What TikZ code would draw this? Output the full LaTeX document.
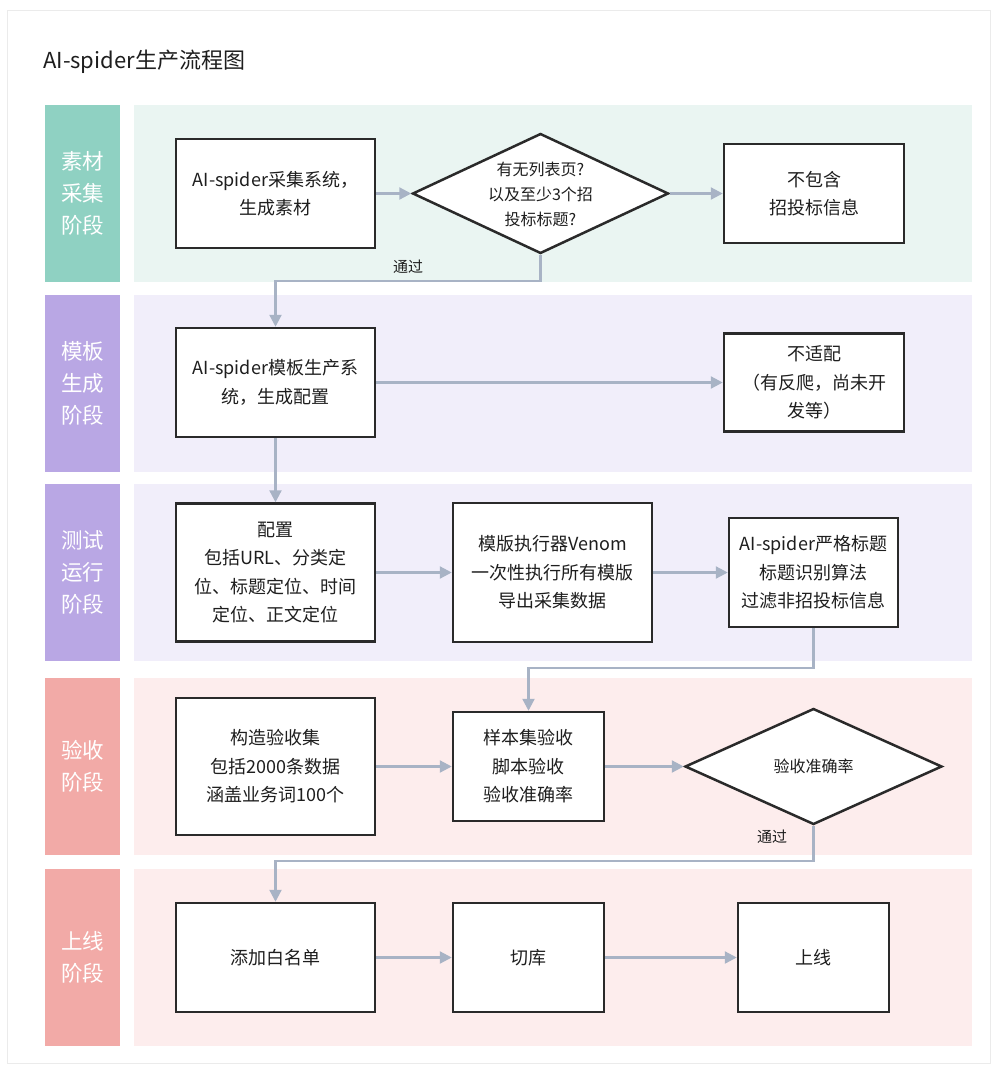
\documentclass[tikz,border=0pt]{standalone}
\usepackage{fontspec}
\setmainfont{Noto Sans CJK SC}
\usetikzlibrary{arrows.meta,shapes.geometric}
\definecolor{tealL}{HTML}{8FD1C2}
\definecolor{tealC}{HTML}{EAF5F2}
\definecolor{purpL}{HTML}{B9A7E4}
\definecolor{purpC}{HTML}{F1EEFA}
\definecolor{redL}{HTML}{F2AAA7}
\definecolor{redC}{HTML}{FDEDED}
\definecolor{arrowc}{HTML}{A8B3C5}
\definecolor{boxline}{HTML}{2A2A2A}
\definecolor{framec}{HTML}{EBEBEB}
\definecolor{textc}{HTML}{1E1E1E}
\begin{document}
\begin{tikzpicture}[x=1pt,y=-1pt,
  box/.style={draw=boxline, line width=2.5pt, fill=white, align=center, inner sep=0pt,
    text=textc, font=\fontsize{18}{28.5}\selectfont},
  dia/.style={diamond, draw=boxline, line width=2.5pt, fill=white, inner sep=0pt},
  diatext/.style={align=center, inner sep=0pt, text=textc, font=\fontsize{16}{25}\selectfont},
  lanelabel/.style={align=center, inner sep=0pt, text=white, font=\fontsize{21.5}{32}\selectfont},
  passlabel/.style={inner sep=0pt, text=textc, font=\fontsize{15}{18}\selectfont},
  conn/.style={draw=arrowc, line width=2.3pt, -{Triangle[length=12pt,width=12pt]}}
]
\useasboundingbox (0,0) rectangle (997,1066);
\fill[white] (0,0) rectangle (997,1066);
\draw[framec, line width=1pt] (7,10) rectangle (990,1063);

% title
\node[anchor=west, inner sep=0pt, text=textc, font=\fontsize{22}{26}\selectfont] (title) at (43,62) {AI-spider生产流程图};

% lanes
\fill[tealL] (45,105) rectangle (120,282);
\fill[tealC] (134,105) rectangle (972,282);
\fill[purpL] (45,295) rectangle (120,472);
\fill[purpC] (134,295) rectangle (972,472);
\fill[purpL] (45,484) rectangle (120,661);
\fill[purpC] (134,484) rectangle (972,661);
\fill[redL] (45,678) rectangle (120,855);
\fill[redC] (134,678) rectangle (972,855);
\fill[redL] (45,869) rectangle (120,1046);
\fill[redC] (134,869) rectangle (972,1046);

\node[lanelabel] (lab1) at (82.5,193.5) {素材\\采集\\阶段};
\node[lanelabel] (lab2) at (82.5,383.5) {模板\\生成\\阶段};
\node[lanelabel] (lab3) at (82.5,572.5) {测试\\运行\\阶段};
\node[lanelabel] (lab4) at (82.5,766.5) {验收\\阶段};
\node[lanelabel] (lab5) at (82.5,957.5) {上线\\阶段};

% lane 1
\node[box, minimum width=199pt, minimum height=109pt] (A) at (275.5,193.5) {AI-spider采集系统，\\生成素材};
\node[dia, minimum width=256pt, minimum height=120pt] (d1) at (540.5,193.5) {};
\node[diatext] (d1t) at (540.5,194) {有无列表页?\\以及至少3个招\\投标标题?};
\node[box, minimum width=180pt, minimum height=99pt] (B) at (814,193.5) {不包含\\招投标信息};

% lane 2
\node[box, minimum width=199pt, minimum height=109pt] (C) at (275.5,382.5) {AI-spider模板生产系\\统，生成配置};
\node[box, minimum width=180pt, minimum height=98pt] (D) at (814,382.5) {不适配\\（有反爬，尚未开\\发等）};

% lane 3
\node[box, minimum width=199pt, minimum height=138pt] (E) at (275.5,572.5) {配置\\包括URL、分类定\\位、标题定位、时间\\定位、正文定位};
\node[box, minimum width=199pt, minimum height=139pt] (F) at (552.5,572.5) {模版执行器Venom\\一次性执行所有模版\\导出采集数据};
\node[box, minimum width=169pt, minimum height=109pt] (G) at (813.5,572.5) {AI-spider严格标题\\标题识别算法\\过滤非招投标信息};

% lane 4
\node[box, minimum width=199pt, minimum height=137pt] (H) at (275.5,766.5) {构造验收集\\包括2000条数据\\涵盖业务词100个};
\node[box, minimum width=151pt, minimum height=109pt] (I) at (528.5,766.5) {样本集验收\\脚本验收\\验收准确率};
\node[dia, minimum width=257pt, minimum height=116pt] (d2) at (813.5,766.5) {};
\node[diatext] (d2t) at (813.5,766.5) {验收准确率};

% lane 5
\node[box, minimum width=199pt, minimum height=109pt] (J) at (275.5,957.5) {添加白名单};
\node[box, minimum width=151pt, minimum height=109pt] (K) at (528.5,957.5) {切库};
\node[box, minimum width=151pt, minimum height=109pt] (L) at (813.5,957.5) {上线};

% connectors
\coordinate (p1) at (540.5,281);
\coordinate (p2) at (813.5,668);
\coordinate (p3) at (813.5,861);
\draw[conn] (A.east) -- (d1.west);
\draw[conn] (d1.east) -- (B.west);
\draw[conn] (d1.south) -- (p1) -| (C.north);
\node[passlabel] (pass1) at (408,267) {通过};
\draw[conn] (C.east) -- (D.west);
\draw[conn] (C.south) -- (E.north);
\draw[conn] (E.east) -- (F.west);
\draw[conn] (F.east) -- (G.west);
\draw[conn] (G.south) -- (p2) -| (I.north);
\draw[conn] (H.east) -- (I.west);
\draw[conn] (I.east) -- (d2.west);
\draw[conn] (d2.south) -- (p3) -| (J.north);
\node[passlabel] (pass2) at (772,837) {通过};
\draw[conn] (J.east) -- (K.west);
\draw[conn] (K.east) -- (L.west);
\end{tikzpicture}
\end{document}
